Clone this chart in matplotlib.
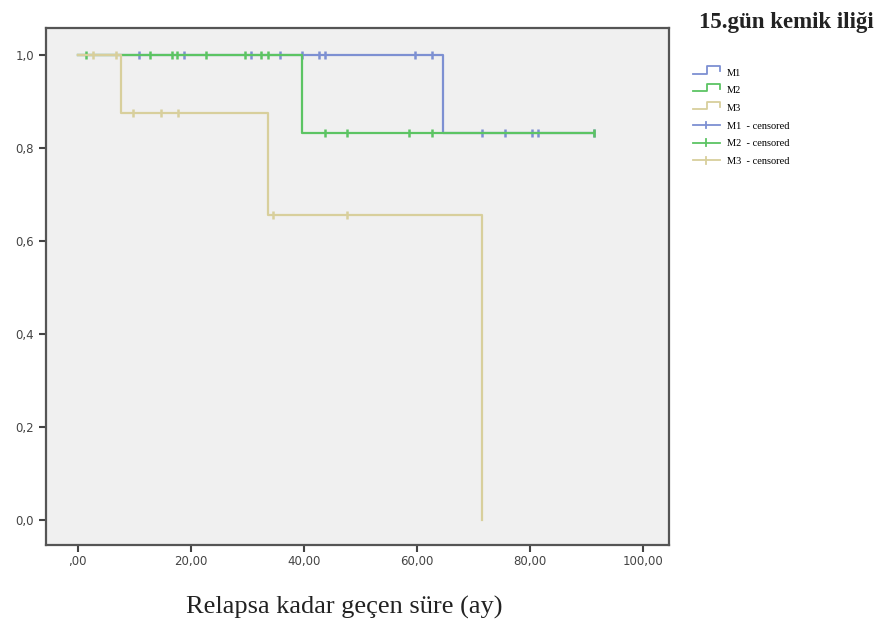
import matplotlib
matplotlib.use("Agg")
import matplotlib.pyplot as plt
import numpy as np
from matplotlib.lines import Line2D
from matplotlib.legend_handler import HandlerBase

# Kaplan-Meier steps
m1_times = [0, 64.6, 91.4]
m1_surv = [1.0, 0.833, 0.833]
m1_cens = [10.8, 18.8, 30.6, 35.7, 39.7, 42.6, 43.7, 59.6, 62.6,
           71.6, 75.5, 80.4, 81.4, 91.4]

m2_times = [0, 39.7, 91.4]
m2_surv = [1.0, 0.833, 0.833]
m2_cens = [1.5, 12.8, 16.7, 17.6, 22.7, 29.6, 32.5, 33.7,
           43.7, 47.6, 58.6, 62.6, 91.4]

m3_times = [0, 7.7, 33.7, 71.6]
m3_surv = [1.0, 0.875, 0.656, 0.0]
m3_cens = [2.7, 6.7, 9.8, 14.8, 17.8, 34.6, 47.6]

group_names = ["M1", "M2", "M3"]
colors = ["#7d90d2", "#5cc463", "#d8cf9c"]

xticks = [0, 20, 40, 60, 80, 100]
xticklabels = [",00", "20,00", "40,00", "60,00", "80,00", "100,00"]
yticks = [0.0, 0.2, 0.4, 0.6, 0.8, 1.0]
yticklabels = ["0,0", "0,2", "0,4", "0,6", "0,8", "1,0"]


def surv_at(times, surv, t):
    i = np.searchsorted(times, t, side="right") - 1
    return np.array(surv)[i]


class StepHandler(HandlerBase):
    def create_artists(self, legend, orig, xd, yd, w, h, fontsize, trans):
        xs = [xd, xd + w * 0.55, xd + w * 0.55, xd + w, xd + w]
        ys = [yd, yd, yd + h, yd + h, yd + h * 0.3]
        ys = [y + h * 0.3 for y in ys]
        ln = Line2D(xs, ys, color=orig.get_color(), lw=1.3, transform=trans)
        return [ln]


class CensHandler(HandlerBase):
    def create_artists(self, legend, orig, xd, yd, w, h, fontsize, trans):
        ym = yd + h * 0.5
        ln = Line2D([xd, xd + w], [ym, ym], color=orig.get_color(), lw=1.3,
                    transform=trans)
        tk = Line2D([xd + w / 2] * 2, [ym - h * 0.45, ym + h * 0.45],
                    color=orig.get_color(), lw=1.3, transform=trans)
        return [ln, tk]


fig = plt.figure(figsize=(8.85, 6.23), dpi=100)
ax = fig.add_axes([0.052, 0.125, 0.704, 0.83])
ax.set_facecolor("#f0f0f0")

groups = [(m1_times, m1_surv, m1_cens), (m2_times, m2_surv, m2_cens),
          (m3_times, m3_surv, m3_cens)]
line_handles = []
cens_handles = []
for (t, s, c), name, col in zip(groups, group_names, colors):
    ln, = ax.step(t, s, where="post", color=col, lw=1.6, label=name)
    line_handles.append(ln)
    cy = [surv_at(t, s, x) for x in c]
    mk, = ax.plot(c, cy, ls="none", marker="|", ms=5.5, mew=1.8, color=col,
                  label=name + "  - censored")
    cens_handles.append(mk)

ax.set_xlim(-5.6, 104.6)
ax.set_ylim(-0.053, 1.058)
ax.set_xticks(xticks)
ax.set_xticklabels(xticklabels)
ax.set_yticks(yticks)
ax.set_yticklabels(yticklabels)
ax.tick_params(direction="out", length=5, width=1.5, colors="#444444",
               labelsize=8.5)
ax.tick_params(axis="x", pad=2)
for sp in ax.spines.values():
    sp.set_color("#555555")
    sp.set_linewidth(1.6)

ax.set_xlabel("Relapsa kadar geçen süre (ay)", family="Liberation Serif",
              fontsize=19, labelpad=20, color="#222222")
ax.xaxis.label.set_x(0.478)

fig.text(0.79, 0.955, "15.gün kemik iliği", family="Liberation Serif",
         fontsize=16.5, fontweight="bold", color="#222222")

handler_map = {h: StepHandler() for h in line_handles}
handler_map.update({h: CensHandler() for h in cens_handles})
leg = fig.legend(line_handles + cens_handles,
                 [h.get_label() for h in line_handles + cens_handles],
                 handler_map=handler_map, loc="upper left",
                 bbox_to_anchor=(0.772, 0.905), frameon=False,
                 prop={"family": "Liberation Serif", "size": 7.5},
                 handlelength=2.6, handletextpad=0.7, labelspacing=0.8)

fig.savefig("out.png", dpi=100)
